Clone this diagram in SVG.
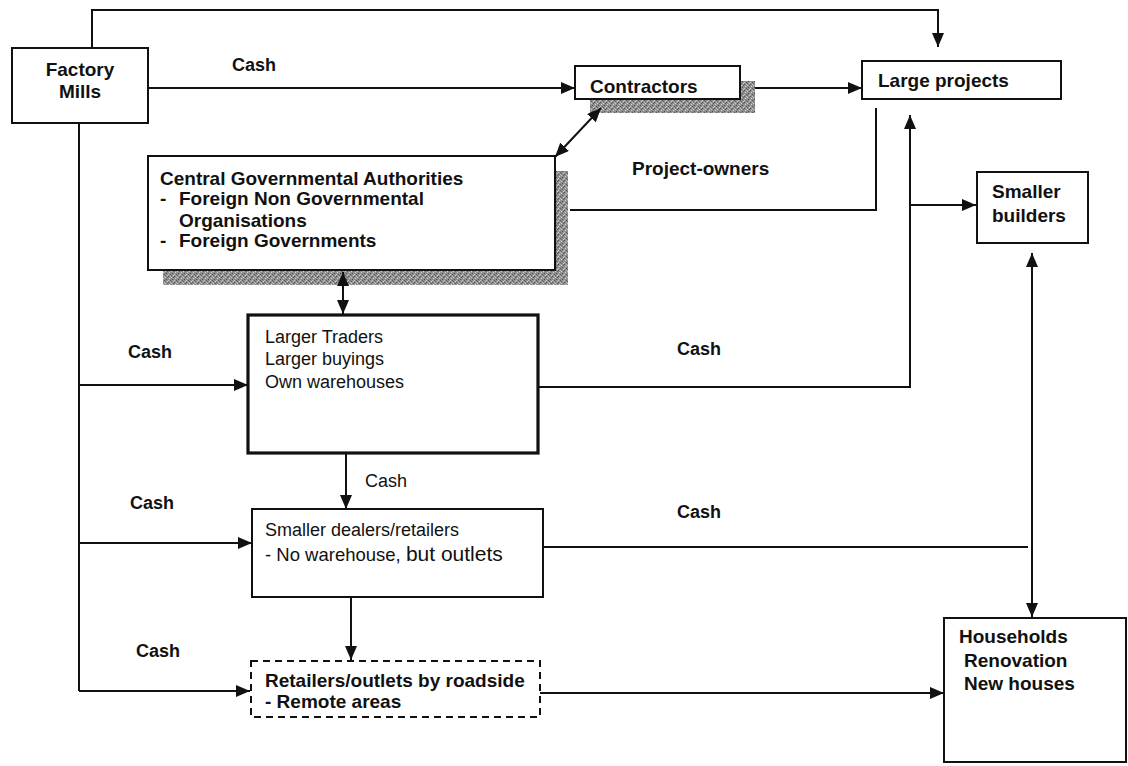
<svg xmlns="http://www.w3.org/2000/svg" width="1128" height="766" viewBox="0 0 1128 766">
  <style>
    text { font-family: "Liberation Sans", Arial, Helvetica, sans-serif; fill: #111; }
    .b { font-weight: bold; font-size: 19px; }
    .cash { font-weight: bold; font-size: 18px; }
    .r { font-size: 18px; }
    .box { fill: #fff; stroke: #111; stroke-width: 2; }
    .thick { fill: #fff; stroke: #111; stroke-width: 3.2; }
    .dash { fill: #fff; stroke: #111; stroke-width: 2; stroke-dasharray: 7 5; }
    .shadow { fill: url(#grain); }
    .ln { fill: none; stroke: #111; stroke-width: 2; }
    .arr { marker-end: url(#head); }
    .arr2 { marker-start: url(#headStart); marker-end: url(#head); }
  </style>
  <defs>
    <!-- speckled grey fill for the drop shadows -->
    <pattern id="grain" width="6" height="6" patternUnits="userSpaceOnUse">
      <rect width="6" height="6" fill="#8f8f8f"/>
      <rect x="0" y="0" width="1" height="1" fill="#555"/>
      <rect x="3" y="1" width="1" height="1" fill="#d2d2d2"/>
      <rect x="1" y="2" width="1" height="1" fill="#d8d8d8"/>
      <rect x="4" y="3" width="1" height="1" fill="#4d4d4d"/>
      <rect x="2" y="4" width="1" height="1" fill="#5a5a5a"/>
      <rect x="5" y="5" width="1" height="1" fill="#cfcfcf"/>
      <rect x="0" y="4" width="1" height="1" fill="#c8c8c8"/>
      <rect x="5" y="1" width="1" height="1" fill="#606060"/>
      <rect x="2" y="0" width="1" height="1" fill="#bdbdbd"/>
      <rect x="3" y="5" width="1" height="1" fill="#666"/>
    </pattern>
    <marker id="head" viewBox="0 0 14 12" refX="14" refY="6" markerWidth="14" markerHeight="12" markerUnits="userSpaceOnUse" orient="auto">
      <path d="M0,0 L14,6 L0,12 Z" fill="#111"/>
    </marker>
    <marker id="headStart" viewBox="0 0 14 12" refX="0" refY="6" markerWidth="14" markerHeight="12" markerUnits="userSpaceOnUse" orient="auto">
      <path d="M14,0 L0,6 L14,12 Z" fill="#111"/>
    </marker>
  </defs>

  <rect width="1128" height="766" fill="#fff"/>

  <g id="factory-mills">
    <rect class="box" x="12" y="48" width="136" height="75"/>
    <text class="b" x="80" y="76" text-anchor="middle">Factory</text>
    <text class="b" x="80" y="98" text-anchor="middle">Mills</text>
  </g>

  <g id="contractors">
    <rect class="shadow" x="590" y="81" width="165" height="32"/>
    <rect class="box" x="575" y="66" width="165" height="33"/>
    <text class="b" x="590" y="93">Contractors</text>
  </g>

  <g id="large-projects">
    <rect class="box" x="862" y="61" width="199" height="38"/>
    <text class="b" x="878" y="87">Large projects</text>
  </g>

  <g id="central-authorities">
    <rect class="shadow" x="163" y="171" width="405" height="114"/>
    <rect class="box" x="148" y="156" width="407" height="114"/>
    <text class="b" x="160" y="185">Central Governmental Authorities</text>
    <text class="b" x="160" y="205">-</text>
    <text class="b" x="179" y="205">Foreign Non Governmental</text>
    <text class="b" x="179" y="227">Organisations</text>
    <text class="b" x="160" y="247">-</text>
    <text class="b" x="179" y="247">Foreign Governments</text>
  </g>

  <g id="smaller-builders">
    <rect class="box" x="977" y="172" width="111" height="71"/>
    <text class="b" x="992" y="198">Smaller</text>
    <text class="b" x="992" y="222">builders</text>
  </g>

  <g id="larger-traders">
    <rect class="thick" x="248" y="315" width="290" height="138"/>
    <text class="r" x="265" y="343">Larger Traders</text>
    <text class="r" x="265" y="365">Larger buyings</text>
    <text class="r" x="265" y="388">Own warehouses</text>
  </g>

  <g id="smaller-dealers">
    <rect class="box" x="252" y="509" width="291" height="88"/>
    <text class="r" x="265" y="536" font-size="18.5">Smaller dealers/retailers</text>
    <text class="r" x="265" y="561"><tspan font-size="18.5">- No warehouse, </tspan><tspan font-size="21">but outlets</tspan></text>
  </g>

  <g id="roadside-retailers">
    <rect class="dash" x="251" y="661" width="289" height="56"/>
    <text class="b" x="265" y="687">Retailers/outlets by roadside</text>
    <text class="b" x="265" y="708">- Remote areas</text>
  </g>

  <g id="households">
    <rect class="box" x="944" y="618" width="182" height="144"/>
    <text class="b" x="959" y="643">Households</text>
    <text class="b" x="964" y="667">Renovation</text>
    <text class="b" x="964" y="690">New houses</text>
  </g>

  <g id="connectors">
    <!-- mills over the top to large projects -->
    <path class="ln arr" d="M92,47 V10 H938 V47"/>
    <!-- mills to contractors -->
    <path class="ln arr" d="M148,88 H575"/>
    <!-- contractors to large projects -->
    <path class="ln arr" d="M755,88 H862"/>
    <!-- contractors <-> central authorities -->
    <path class="ln arr2" d="M601,108 L555,157"/>
    <!-- project-owners link -->
    <path class="ln" d="M570,210 H876 V108"/>
    <!-- central authorities <-> larger traders -->
    <path class="ln arr2" d="M343,272 V314"/>
    <!-- mills trunk and cash feeds -->
    <path class="ln" d="M79,123 V691"/>
    <path class="ln arr" d="M79,385 H248"/>
    <path class="ln arr" d="M79,543 H252"/>
    <path class="ln arr" d="M79,691 H250"/>
    <!-- larger traders to large projects / smaller builders -->
    <path class="ln arr" d="M538,387 H910 V115"/>
    <path class="ln arr" d="M910,205 H976"/>
    <!-- larger traders to smaller dealers -->
    <path class="ln arr" d="M346,453 V509"/>
    <!-- smaller dealers to roadside retailers -->
    <path class="ln arr" d="M351,597 V660"/>
    <!-- smaller dealers cash line -->
    <path class="ln" d="M543,547 H1028"/>
    <!-- smaller builders <-> households -->
    <path class="ln arr2" d="M1032,253 V617"/>
    <!-- roadside retailers to households -->
    <path class="ln arr" d="M540,693 H944"/>
  </g>

  <g id="labels">
    <text class="cash" x="232" y="71">Cash</text>
    <text class="b" x="632" y="175">Project-owners</text>
    <text class="cash" x="128" y="358">Cash</text>
    <text class="cash" x="677" y="355">Cash</text>
    <text class="r" x="365" y="487">Cash</text>
    <text class="cash" x="130" y="509">Cash</text>
    <text class="cash" x="677" y="518">Cash</text>
    <text class="cash" x="136" y="657">Cash</text>
  </g>
</svg>
